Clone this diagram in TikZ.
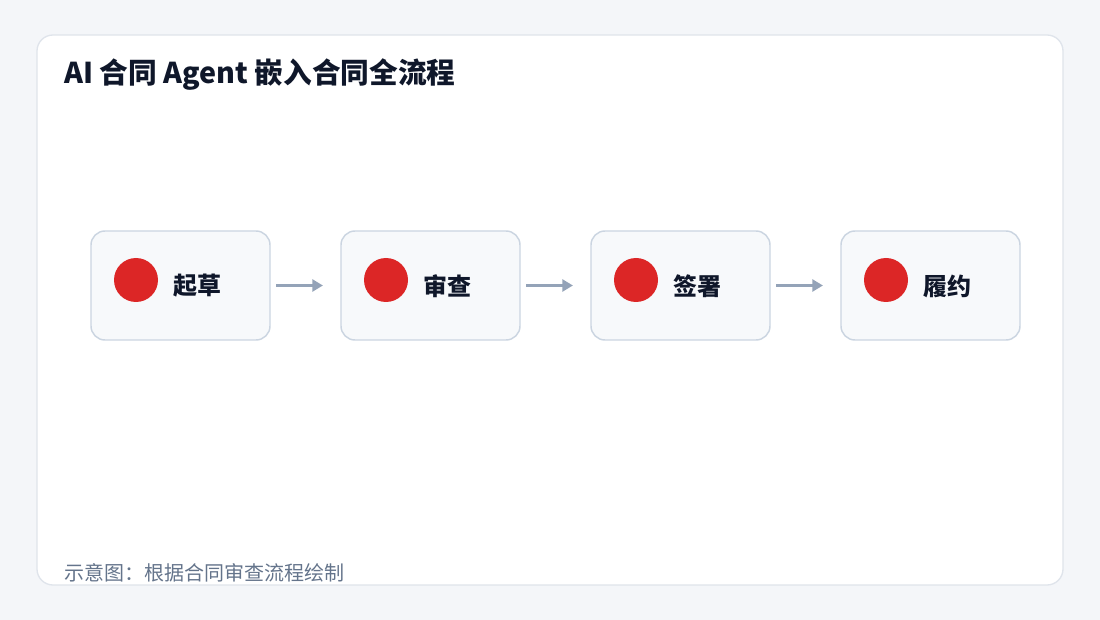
\documentclass[tikz,border=0pt]{standalone}
\usepackage{fontspec}
\usetikzlibrary{arrows.meta}
\setmainfont{Noto Sans CJK SC}
\definecolor{bg}{HTML}{F4F6F9}
\definecolor{cardline}{HTML}{CBD5E1}
\definecolor{outer}{HTML}{DFE4EB}
\definecolor{boxfill}{HTML}{F7F9FB}
\definecolor{dotred}{HTML}{DC2626}
\definecolor{titlec}{HTML}{0F172A}
\definecolor{arrc}{HTML}{94A3B8}
\definecolor{foot}{HTML}{64748B}
\begin{document}
\begin{tikzpicture}[x=0.75pt,y=-0.75pt,
  stagebox/.style={draw=cardline,fill=boxfill,line width=1.1pt,rounded corners=10.5pt,minimum width=134.25pt,minimum height=81.75pt},
  dot/.style={circle,fill=dotred,minimum size=33pt,inner sep=0pt},
  lab/.style={anchor=west,font=\fontsize{18pt}{20pt}\selectfont\bfseries,text=titlec},
  arr/.style={draw=arrc,line width=2.3pt,-{Triangle[length=8pt,width=9pt]}}]
\useasboundingbox (0,0) rectangle (1100,620);
\fill[bg] (0,0) rectangle (1100,620);
\draw[outer,fill=white,line width=1pt,rounded corners=12pt] (37,35) rectangle (1063,585);
\node[anchor=west,font=\fontsize{21.5pt}{24pt}\selectfont\bfseries,text=titlec,inner sep=0pt] (title) at (64,75) {AI 合同 Agent 嵌入合同全流程};
\foreach \i/\t in {0/起草,1/审查,2/签署,3/履约}{
  \node[stagebox] (b\i) at (180.5+250*\i,285.5) {};
  \node[dot] (d\i) at (136+250*\i,280) {};
  \node[lab,inner sep=0pt] (l\i) at (173+250*\i,286) {\t};
}
\foreach \i/\j in {0/1,1/2,2/3}{
  \draw[arr] ([xshift=4]b\i.east) -- ([xshift=-13]b\j.west);
}
\node[anchor=west,font=\fontsize{15pt}{18pt}\selectfont,text=foot,inner sep=0pt] (foot) at (64,573) {示意图：根据合同审查流程绘制};
\end{tikzpicture}
\end{document}
